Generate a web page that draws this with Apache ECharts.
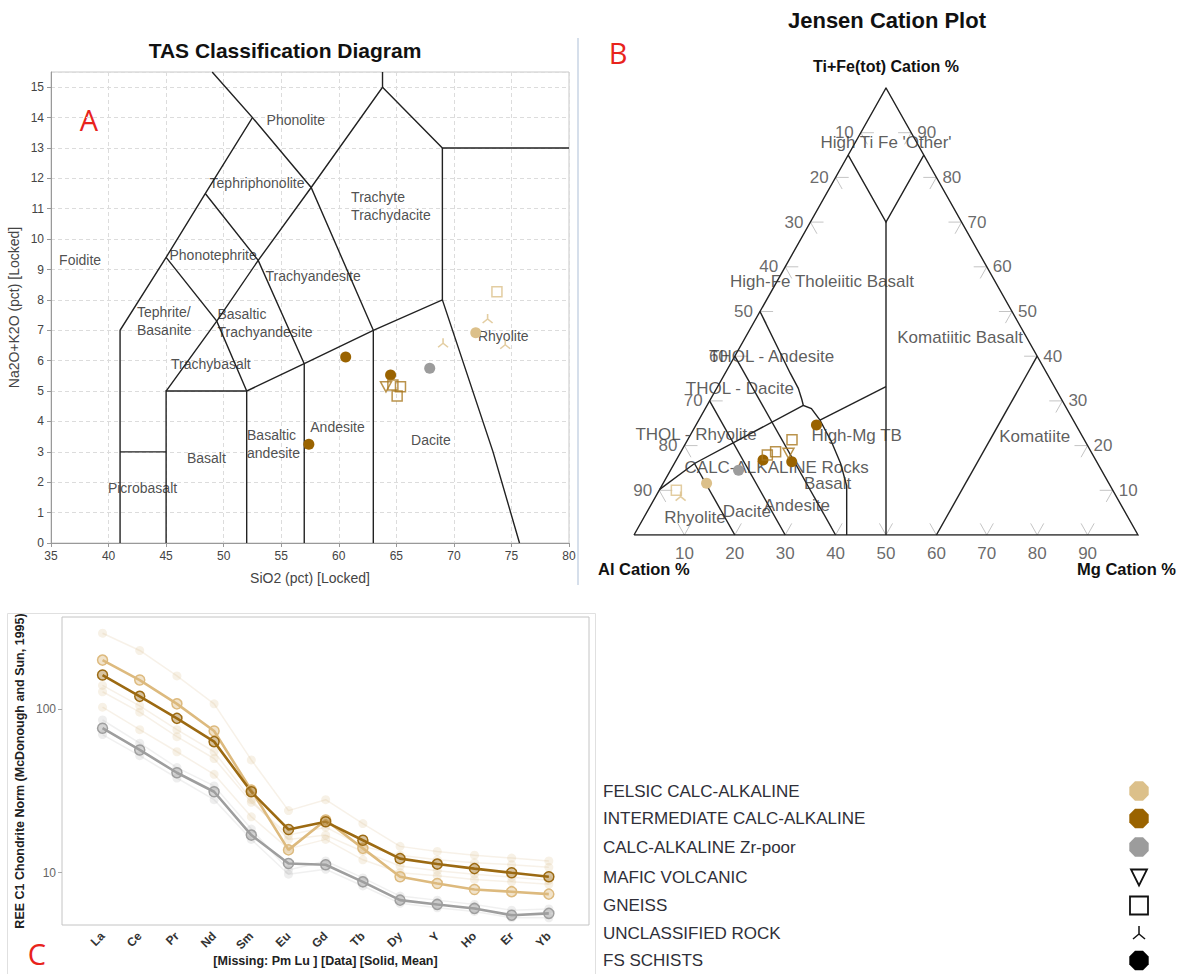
<!DOCTYPE html>
<html><head><meta charset="utf-8">
<script src="https://cdn.jsdelivr.net/npm/echarts@6/dist/echarts.min.js"></script>
<style>html,body{margin:0;padding:0;background:#fff}#c{width:1181px;height:974px}</style>
</head><body><div id="c"></div>
<script>
// ======================= DATA =======================
// ---- Panel A : TAS (SiO2, Na2O+K2O) ----
const tasSchistInter   = [[60.6, 6.12], [57.4, 3.25], [64.5, 5.53]];
const tasSchistFelsic  = [[71.9, 6.92]];
const tasSchistZrPoor  = [[67.9, 5.75]];
const tasGneissInter   = [[64.7, 5.2], [65.36, 5.14], [65.07, 4.84]];
const tasGneissFelsic  = [[73.74, 8.27]];
const tasMaficInter    = [[64.1, 5.14]];
const tasUnclassFelsic = [[69.06, 6.59], [72.93, 7.39], [74.46, 6.54]];
// TAS field boundaries (SiO2, Na2O+K2O)
const tasBoundaries = [
  [[41,0],[41,7],[45,9.4],[48.4,11.5],[52.5,14],[49,15.5]],
  [[41,3],[45,3]],
  [[45,0],[45,5],[52,5]],
  [[52,0],[52,5],[57,5.9],[63,7],[69,8],[73.4,3],[75.7,0]],
  [[57,0],[57,5.9]],
  [[63,0],[63,7]],
  [[45,5],[49.4,7.3],[53,9.3],[57.6,11.7],[63.8,15],[63.8,15.5]],
  [[45,9.4],[49.4,7.3],[52,5]],
  [[48.4,11.5],[53,9.3],[57,5.9]],
  [[52.5,14],[57.6,11.7],[63,7]],
  [[63.8,15],[69,13],[80,13]],
  [[69,13],[69,8]]
];
const tasFieldNames = ['Phonolite','Tephriphonolite','Trachyte\nTrachydacite','Foidite','Phonotephrite',
  'Trachyandesite','Tephrite/\nBasanite','Basaltic\nTrachyandesite','Trachybasalt','Rhyolite',
  'Andesite','Dacite','Basaltic\nandesite','Basalt','Picrobasalt'];
const tasFieldAnchors = [[56.26,13.91],[52.9,11.84],[61.07,11.1],[37.53,9.3],[49.08,9.48],
  [57.77,8.78],[42.47,7.29],[49.46,7.25],[48.89,5.88],[74.29,6.8],
  [59.89,3.83],[68.0,3.39],[52.03,3.245],[48.5,2.81],[42.95,1.8]];

// ---- Panel B : Jensen cation plot, points as [Al, Ti+Fe, Mg] cation % ----
const jenSchistInter   = [[51.5, 24.6, 23.9], [66.0, 16.8, 17.2], [60.5, 16.4, 23.1]];
const jenSchistFelsic  = [[79.8, 11.6, 8.6]];
const jenSchistZrPoor  = [[72.0, 14.5, 13.5]];
const jenGneissInter   = [[58.0, 21.3, 20.7], [62.6, 18.6, 18.8], [64.6, 17.9, 17.5]];
const jenGneissFelsic  = [[86.6, 10.0, 3.4]];
const jenMaficInter    = [[60.2, 18.3, 21.5]];
const jenUnclassFelsic = [[86.4, 8.7, 4.9]];
const jenBoundaries = [
  [[100,0,0],[0,0,100],[0,100,0],[100,0,0]],
  [[15,85,0],[15,70,15],[0,85,15]],
  [[15,70,15],[50,0,50]],
  [[0,40,60],[40,0,60]],
  [[89.8,10.2,0],[80,16,4],[51.9,29,19.1]],
  [[50,50,0],[50.9,36.2,12.9],[51,32.8,16.2],[51.55,30.3,18.15],[51.9,29,19.1],[50.65,28.3,21.05],
   [50.25,25.7,24.05],[50.4,20.8,28.8],[51,16,33],[52.3,11,36.7],[57.8,0,42.2]],
  [[50.25,25.7,24.05],[33.4,33.2,33.4]],
  [[80,16,4],[80,0,20]],
  [[70,30,0],[70,0,30]],
  [[60,40,0],[60,0,40]]
];
const jenFieldNames = ["High Ti Fe 'Other'",'High-Fe Tholeiitic Basalt','Komatiitic Basalt','THOL - Andesite',
  'THOL - Dacite','THOL - Rhyolite','High-Mg TB','CALC-ALKALINE Rocks','Basalt','Andesite','Dacite','Rhyolite','Komatiite'];
const jenFieldAnchors = [[6.15,87.7,6.15],[34.4,56.6,9.0],[13.25,44.1,42.65],[52.7,40,7.3],
  [62.65,32.7,4.65],[76.5,22.4,1.1],[44.7,22.2,33.1],[64.15,15.1,20.75],[55.8,11.6,32.6],
  [64.45,6.5,29.05],[75.0,5.2,19.8],[85.9,4.0,10.1],[9.5,22,68.5]];
const jenTicks = [10,20,30,40,50,60,70,80,90];

// ---- Panel C : REE chondrite normalised ----
const reeElements = ['La','Ce','Pr','Nd','Sm','Eu','Gd','Tb','Dy','Y','Ho','Er','Yb'];
const reeFelsicMean = [200,151,108,73.6,32,13.8,21,14.1,9.45,8.6,7.9,7.66,7.4];
const reeInterMean  = [162,120,88,63.4,31.3,18.4,20.5,15.8,12.2,11.3,10.6,10,9.45];
const reeZrPoorMean = [76.6,56.4,40.9,31.3,17,11.4,11.2,8.8,6.8,6.4,6.05,5.5,5.64];
const reeSample1 = [292,229,160,108,49,24,28,20,14.5,13.5,12.8,12.3,11.8];
const reeSample2 = [140,105,75,55,28,16,17,13.5,11,10.3,9.8,9.4,9.0];
const reeSample3 = [103,75,55,40,22,14,16,12,10,9.6,9.1,8.8,8.5];
const reeSample4 = [128,96,68,50,27,17,19,14.5,12.8,12,11.5,11.2,10.8];
const reeSample5 = [86,62,44,34,18.5,10.4,11.8,9.3,7.2,6.8,6.4,5.9,6.0];
const reeSample6 = [70,52,38,28,16,9.8,10.5,8.3,6.5,6.1,5.8,5.3,5.3];

// ---- Legend ----
const legendNames = ['FELSIC CALC-ALKALINE','INTERMEDIATE CALC-ALKALINE','CALC-ALKALINE Zr-poor',
  'MAFIC VOLCANIC','GNEISS','UNCLASSIFIED ROCK','FS SCHISTS'];

// ======================= CHART =======================
const FONT = '"Liberation Sans", Arial, sans-serif';
const COL_FELSIC = '#DCC08A', COL_INTER = '#9A6300', COL_ZR = '#9C9C9C', COL_INTER_OUT = '#A9781F';
const TRIPOD = 'path://M5,0 L5,5 L0,9 M5,5 L10,9';
const toXY = p => [p[2] + p[1] / 2, p[1]];

const chart = echarts.init(document.getElementById('c'), null, {renderer: 'svg'});

function sampleSeries(name, gi, data, kind, color) {
  const s = {type: 'scatter', name: name, xAxisIndex: gi, yAxisIndex: gi, z: 6, data: data, silent: true};
  if (kind === 'dot') { s.symbol = 'circle'; s.symbolSize = 11; s.itemStyle = {color: color, opacity: 1}; }
  else {
    s.itemStyle = {color: 'rgba(0,0,0,0)', borderColor: color, borderWidth: 1.5};
    if (kind === 'square') { s.symbol = 'rect'; s.symbolSize = 10; }
    if (kind === 'tri') { s.symbol = 'triangle'; s.symbolRotate = 180; s.symbolSize = [11, 10]; }
    if (kind === 'tripod') { s.symbol = TRIPOD; s.symbolSize = [10, 9]; }
  }
  return s;
}

const series = [];
// ---- TAS ----
series.push({type: 'lines', coordinateSystem: 'cartesian2d', xAxisIndex: 0, yAxisIndex: 0, polyline: true, silent: true, z: 3,
  lineStyle: {color: '#222', width: 1.4, opacity: 1},
  data: tasBoundaries.map(c => ({coords: c}))});
series.push({type: 'scatter', xAxisIndex: 0, yAxisIndex: 0, symbolSize: 0, silent: true, z: 4,
  data: tasFieldNames.map((n, i) => ({name: n, value: tasFieldAnchors[i],
    label: n.indexOf('\n') >= 0 ? {align: 'left'} : {}})),
  label: {show: true, position: 'inside', formatter: '{b}', fontSize: 14, color: '#222', lineHeight: 18, fontFamily: FONT}});
series.push(sampleSeries('FS SCHISTS inter', 0, tasSchistInter, 'dot', COL_INTER));
series.push(sampleSeries('FS SCHISTS felsic', 0, tasSchistFelsic, 'dot', COL_FELSIC));
series.push(sampleSeries('FS SCHISTS zr', 0, tasSchistZrPoor, 'dot', COL_ZR));
series.push(sampleSeries('GNEISS inter', 0, tasGneissInter, 'square', COL_INTER_OUT));
series.push(sampleSeries('GNEISS felsic', 0, tasGneissFelsic, 'square', COL_FELSIC));
series.push(sampleSeries('MAFIC inter', 0, tasMaficInter, 'tri', COL_INTER_OUT));
series.push(sampleSeries('UNCLASS felsic', 0, tasUnclassFelsic, 'tripod', COL_FELSIC));

// ---- Jensen ----
series.push({type: 'lines', coordinateSystem: 'cartesian2d', xAxisIndex: 1, yAxisIndex: 1, polyline: true, silent: true, z: 3,
  lineStyle: {color: '#222', width: 1.4, opacity: 1},
  data: jenBoundaries.map(c => ({coords: c.map(toXY)}))});
const L = 2.6, chev = [];
jenTicks.forEach(t => {
  chev.push({coords: [toXY([100 - t - L, L, t]), toXY([100 - t, 0, t]), toXY([100 - t, L, t - L])]});
  chev.push({coords: [toXY([t - L, 100 - t, L]), toXY([t, 100 - t, 0]), toXY([t, 100 - t - L, L])]});
  chev.push({coords: [toXY([L, t, 100 - t - L]), toXY([0, t, 100 - t]), toXY([L, t - L, 100 - t])]});
});
series.push({type: 'lines', coordinateSystem: 'cartesian2d', xAxisIndex: 1, yAxisIndex: 1, polyline: true, silent: true, z: 2,
  lineStyle: {color: '#c4c4c4', width: 1, opacity: 1}, data: chev});
const tickLabelStyle = {show: true, formatter: '{b}', fontSize: 17, color: '#444', fontFamily: FONT};
series.push({type: 'scatter', xAxisIndex: 1, yAxisIndex: 1, symbolSize: 0, silent: true, z: 4,
  data: jenTicks.map(t => ({name: String(t), value: toXY([t, 100 - t, 0])})),
  label: Object.assign({position: 'left', distance: 7}, tickLabelStyle)});
series.push({type: 'scatter', xAxisIndex: 1, yAxisIndex: 1, symbolSize: 0, silent: true, z: 4,
  data: jenTicks.map(t => ({name: String(t), value: toXY([0, t, 100 - t])})),
  label: Object.assign({position: 'right', distance: 6}, tickLabelStyle)});
series.push({type: 'scatter', xAxisIndex: 1, yAxisIndex: 1, symbolSize: 0, silent: true, z: 4,
  data: jenTicks.map(t => ({name: String(t), value: toXY([100 - t, 0, t])})),
  label: Object.assign({position: 'bottom', distance: 10}, tickLabelStyle)});
series.push({type: 'scatter', xAxisIndex: 1, yAxisIndex: 1, symbolSize: 0, silent: true, z: 4,
  data: jenFieldNames.map((n, i) => ({name: n, value: toXY(jenFieldAnchors[i])})),
  label: {show: true, position: 'inside', formatter: '{b}', fontSize: 17, color: '#333', fontFamily: FONT}});
series.push(sampleSeries('FS SCHISTS inter', 1, jenSchistInter.map(toXY), 'dot', COL_INTER));
series.push(sampleSeries('FS SCHISTS felsic', 1, jenSchistFelsic.map(toXY), 'dot', COL_FELSIC));
series.push(sampleSeries('FS SCHISTS zr', 1, jenSchistZrPoor.map(toXY), 'dot', COL_ZR));
series.push(sampleSeries('GNEISS inter', 1, jenGneissInter.map(toXY), 'square', COL_INTER_OUT));
series.push(sampleSeries('GNEISS felsic', 1, jenGneissFelsic.map(toXY), 'square', COL_FELSIC));
series.push(sampleSeries('MAFIC inter', 1, jenMaficInter.map(toXY), 'tri', COL_INTER_OUT));
series.push(sampleSeries('UNCLASS felsic', 1, jenUnclassFelsic.map(toXY), 'tripod', COL_FELSIC));

// ---- REE ----
const reeXY = arr => arr.map((v, i) => [i, v]);
[reeSample1, reeSample2, reeSample3, reeSample4].forEach(s => series.push({
  type: 'line', xAxisIndex: 2, yAxisIndex: 2, data: reeXY(s), symbol: 'circle', symbolSize: 9, silent: true, z: 2,
  lineStyle: {color: 'rgba(205,170,110,0.16)', width: 1.5}, itemStyle: {color: 'rgba(215,185,130,0.2)'}}));
[reeSample5, reeSample6].forEach(s => series.push({
  type: 'line', xAxisIndex: 2, yAxisIndex: 2, data: reeXY(s), symbol: 'circle', symbolSize: 9, silent: true, z: 2,
  lineStyle: {color: 'rgba(160,160,160,0.16)', width: 1.5}, itemStyle: {color: 'rgba(170,170,170,0.2)'}}));
function meanSeries(arr, col, fill) {
  return {type: 'line', xAxisIndex: 2, yAxisIndex: 2, data: reeXY(arr), symbol: 'circle', symbolSize: 10, silent: true, z: 5,
    lineStyle: {color: col, width: 2.6}, itemStyle: {color: fill, borderColor: col, borderWidth: 1.5}};
}
series.push(meanSeries(reeZrPoorMean, '#9E9E9E', 'rgba(160,160,160,0.45)'));
series.push(meanSeries(reeFelsicMean, '#DDBA7E', 'rgba(221,186,126,0.4)'));
series.push(meanSeries(reeInterMean, '#9C6A12', 'rgba(156,106,18,0.4)'));

// ---- graphic: titles, letters, legend ----
const g = [];
const txt = (text, x, y, size, opts) => Object.assign({type: 'text', silent: true,
  style: Object.assign({text: text, x: x, y: y, fontSize: size, fontFamily: FONT, fill: '#111',
    textAlign: 'center', textVerticalAlign: 'middle'}, opts || {})});
g.push({type: 'line', silent: true, shape: {x1: 578, y1: 38, x2: 578, y2: 585}, style: {stroke: '#c9d5e4', lineWidth: 1.5}});
g.push({type: 'rect', silent: true, shape: {x: 7.5, y: 613.5, width: 588, height: 370}, style: {fill: 'none', stroke: '#e0e0e0', lineWidth: 1}});
g.push(txt('TAS Classification Diagram', 285, 50, 21, {fontWeight: 'bold'}));
g.push(txt('Jensen Cation Plot', 887, 20, 22, {fontWeight: 'bold'}));
g.push(txt('Ti+Fe(tot) Cation %', 886, 66, 16, {fontWeight: 'bold'}));
g.push(txt('Al Cation %', 598, 569, 16.5, {fontWeight: 'bold', textAlign: 'left'}));
g.push(txt('Mg Cation %', 1176, 569, 16.5, {fontWeight: 'bold', textAlign: 'right'}));
g.push(txt('A', 89, 119, 29, {fill: '#e8231c', fontFamily: '"Open Sans", sans-serif'}));
g.push(txt('B', 618, 52, 29, {fill: '#e8231c', fontFamily: '"Open Sans", sans-serif'}));
g.push(txt('C', 37, 953, 29, {fill: '#e8231c', fontFamily: '"Open Sans", sans-serif'}));
const legY = [791, 818.5, 847, 877.5, 905.5, 933, 960.5];
const octa = (cx, cy, r) => { const p = []; for (let k = 0; k < 8; k++) { const a = (k * 45 + 22.5) * Math.PI / 180; p.push([cx + r * Math.cos(a), cy + r * Math.sin(a)]); } return p; };
legendNames.forEach((n, i) => {
  g.push(txt(n, 603, legY[i], 17, {textAlign: 'left', fill: '#2f2f38'}));
  const cx = 1139, cy = legY[i];
  if (i <= 2) g.push({type: 'polygon', silent: true, shape: {points: octa(cx, cy, 10.5)}, style: {fill: [COL_FELSIC, COL_INTER, COL_ZR][i]}});
  if (i === 6) g.push({type: 'polygon', silent: true, shape: {points: octa(cx, cy, 10.5)}, style: {fill: '#000'}});
  if (i === 3) g.push({type: 'polygon', silent: true, shape: {points: [[cx - 8, cy - 8], [cx + 8, cy - 8], [cx, cy + 8]]}, style: {fill: 'none', stroke: '#111', lineWidth: 1.8}});
  if (i === 4) g.push({type: 'rect', silent: true, shape: {x: cx - 9, y: cy - 9, width: 18, height: 18}, style: {fill: 'none', stroke: '#111', lineWidth: 1.8}});
  if (i === 5) g.push({type: 'polyline', silent: true, shape: {points: [[cx, cy - 7], [cx, cy + 1], [cx - 6, cy + 6]]}, style: {fill: 'none', stroke: '#111', lineWidth: 1.5}});
  if (i === 5) g.push({type: 'line', silent: true, shape: {x1: cx, y1: cy + 1, x2: cx + 6, y2: cy + 6}, style: {stroke: '#111', lineWidth: 1.5}});
});

chart.setOption({
  animation: false,
  textStyle: {fontFamily: FONT},
  grid: [
    {left: 51, top: 72, width: 518, height: 471, show: true, borderColor: '#c8c8c8', borderWidth: 1},
    {left: 634, top: 88, width: 504, height: 447},
    {left: 62, top: 617, width: 527, height: 308, show: true, borderColor: '#c4c4c4', borderWidth: 1}
  ],
  xAxis: [
    {gridIndex: 0, type: 'value', min: 35, max: 80, interval: 5,
      axisLine: {show: true, onZero: false, lineStyle: {color: '#999'}}, axisTick: {show: true, length: 4, lineStyle: {color: '#999'}},
      axisLabel: {fontSize: 12, color: '#444', margin: 7},
      splitLine: {show: true, lineStyle: {type: [4, 3], color: '#dcdcdc'}},
      name: 'SiO2 (pct) [Locked]', nameLocation: 'middle', nameGap: 28, nameTextStyle: {fontSize: 14, color: '#444'}},
    {gridIndex: 1, type: 'value', min: 0, max: 100, show: false},
    {gridIndex: 2, type: 'value', min: -1.09, max: 13.08,
      axisLine: {show: false, onZero: false}, axisTick: {show: false}, splitLine: {show: false},
      axisLabel: {customValues: reeElements.map((e, i) => i), formatter: v => reeElements[Math.round(v)] || '',
        rotate: 45, fontSize: 12, fontWeight: 'bold', color: '#333', margin: 9},
      name: '[Missing: Pm Lu ] [Data] [Solid, Mean]', nameLocation: 'middle', nameGap: 27,
      nameTextStyle: {fontSize: 12.5, fontWeight: 'bold', color: '#222'}}
  ],
  yAxis: [
    {gridIndex: 0, type: 'value', min: 0, max: 15.5, interval: 1,
      axisLine: {show: true, onZero: false, lineStyle: {color: '#999'}}, axisTick: {show: true, length: 4, lineStyle: {color: '#999'}},
      axisLabel: {fontSize: 12, color: '#444', margin: 7, showMaxLabel: false},
      splitLine: {show: true, lineStyle: {type: [4, 3], color: '#dcdcdc'}},
      name: 'Na2O+K2O (pct) [Locked]', nameLocation: 'middle', nameGap: 30, nameTextStyle: {fontSize: 14, color: '#444'}},
    {gridIndex: 1, type: 'value', min: 0, max: 100, show: false},
    {gridIndex: 2, type: 'log', logBase: 10, min: 4.79, max: 367,
      axisLine: {show: false, onZero: false}, axisTick: {show: true, length: 4, lineStyle: {color: '#aaa'}}, splitLine: {show: false},
      axisLabel: {showMinLabel: false, showMaxLabel: false, fontSize: 12, color: '#666', margin: 6},
      name: 'REE C1 Chondrite Norm (McDonough and Sun, 1995)', nameLocation: 'middle', nameGap: 36,
      nameTextStyle: {fontSize: 12.5, fontWeight: 'bold', color: '#222'}}
  ],
  graphic: g,
  series: series
});
</script>
</body></html>
